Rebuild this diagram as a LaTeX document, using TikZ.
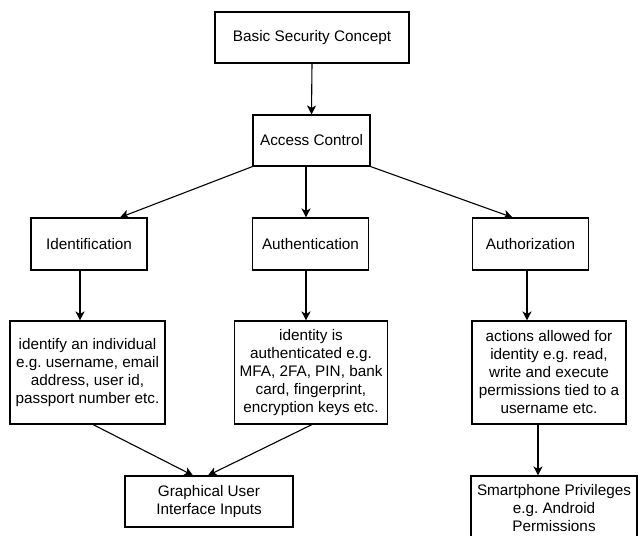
\documentclass[tikz,border=0pt]{standalone}
\usepackage{fontspec}
\setmainfont{Liberation Sans}
\usetikzlibrary{arrows.meta,calc}
\frenchspacing
\begin{document}
\begin{tikzpicture}[x=1pt,y=-1pt,
  box/.style={draw=black,line width=1.1pt,fill=white,align=center,inner sep=0pt,
    font=\fontsize{15.3}{18}\selectfont},
  arr/.style={line width=1.1pt,-{Stealth[length=9pt,width=9pt,inset=2.5pt]}}]
\useasboundingbox (0,0) rectangle (638,536);
\clip (0,0) rectangle (638,536);
\node[box,minimum width=194pt,minimum height=51pt] (bsc) at (312,37.5) {Basic Security Concept};
\node[box,minimum width=117pt,minimum height=51pt] (ac) at (311.5,140.5) {Access Control};
\node[box,minimum width=116pt,minimum height=52pt] (idf) at (89,244) {Identification};
\node[box,minimum width=116pt,minimum height=52pt] (aun) at (310.5,244) {Authentication};
\node[box,minimum width=116pt,minimum height=52pt] (aur) at (530.5,244) {Authorization};
\node[box,minimum width=155pt,minimum height=103pt] (idb) at (87.5,372.5) {identify an individual\\e.g. username, email\\address, user id,\\passport number etc.};
\node[box,minimum width=153pt,minimum height=103pt] (atb) at (311,372.5) {identity is\\authenticated e.g.\\MFA, 2FA, PIN, bank\\card, fingerprint,\\encryption keys etc.};
\node[box,minimum width=154pt,minimum height=103pt] (acb) at (549,372.5) {actions allowed for\\identity e.g. read,\\write and execute\\permissions tied to a\\username etc.};
\node[box,minimum width=168pt,minimum height=51pt] (gui) at (209,501.5) {Graphical User\\Interface Inputs};
\node[box,minimum width=166pt,minimum height=64pt] (sp) at (554,508) {Smartphone Privileges\\e.g. Android\\Permissions};
% connectors
\draw[arr] (bsc.south) -- (ac.north);
\draw[arr] (ac.south west) -- ($(idf.north)+(31,0)$);
\coordinate (p0) at ($(ac.south)+(-5.5,0)$);
\draw[arr] (p0) -- (p0 |- aun.north);
\draw[arr] (ac.south east) -- ($(aur.north)+(-18,0)$);
\coordinate (p1) at ($(idf.south)+(-9,0)$);
\draw[arr] (p1) -- (p1 |- idb.north);
\coordinate (p2) at ($(aun.south)+(-4.5,0)$);
\draw[arr] (p2) -- (p2 |- atb.north);
\coordinate (p3) at ($(aur.south)+(-3.5,0)$);
\draw[arr] (p3) -- (p3 |- acb.north);
\coordinate (p4) at ($(acb.south)+(-11,0)$);
\draw[arr] (p4) -- (p4 |- sp.north);
\draw[arr] ($(idb.south)+(5.5,0)$) -- ($(gui.north)+(-16,0)$);
\draw[arr] ($(atb.south)+(1,0)$) -- ($(gui.north)+(-1,0)$);
\end{tikzpicture}
\end{document}
